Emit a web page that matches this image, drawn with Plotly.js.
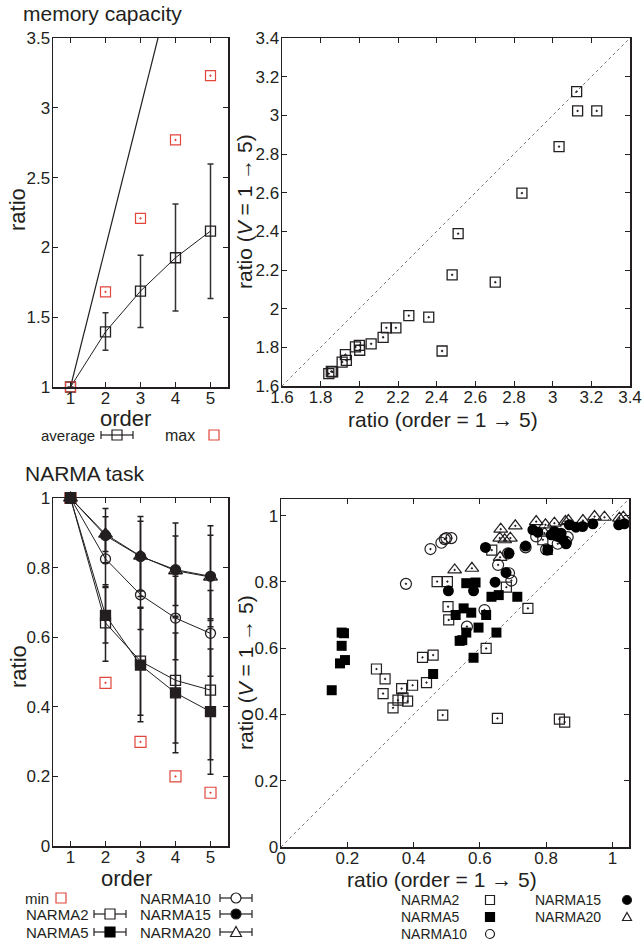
<!DOCTYPE html>
<html>
<head>
<meta charset="utf-8">
<script src="https://cdn.plot.ly/plotly-3.0.1.min.js"></script>
<style>html,body{margin:0;padding:0;background:#fff;}#chart{width:642px;height:946px;}</style>
</head>
<body>
<div id="chart"></div>
<script>
// ---------------- DATA ----------------
// Memory capacity vs order (left top)
const orders = [1, 2, 3, 4, 5];
const mcAverage = [1, 1.395, 1.687, 1.926, 2.117];
const mcErrPlus = [0, 0.136, 0.256, 0.385, 0.481];
const mcErrMinus = [0, 0.132, 0.261, 0.381, 0.483];
const mcMax = [1, 1.682, 2.208, 2.770, 3.230];
const mcRefLineX = [1, 5];
const mcRefLineY = [1, 5];

// Memory capacity scatter (right top)
const mcOrderRatio = [3.124, 3.129, 3.228, 3.033, 2.841, 2.511, 2.480, 2.703, 2.256, 2.359, 2.428, 2.140, 2.189, 2.123, 2.061, 1.980, 2.002, 2.000, 1.928, 1.911, 1.933, 1.862, 1.842, 1.855];
const mcVRatio = [3.123, 3.023, 3.023, 2.838, 2.598, 2.388, 2.175, 2.137, 1.964, 1.956, 1.781, 1.901, 1.901, 1.852, 1.818, 1.802, 1.785, 1.810, 1.762, 1.724, 1.733, 1.673, 1.664, 1.675];
const mcDiag = [1.6, 3.4];

// NARMA vs order (left bottom)
const narma2 = [1, 0.641, 0.531, 0.476, 0.448];
const narma5 = [1, 0.663, 0.520, 0.440, 0.386];
const narma10 = [1, 0.825, 0.722, 0.655, 0.611];
const narma15 = [1, 0.892, 0.832, 0.794, 0.775];
const narma20 = [1, 0.896, 0.833, 0.791, 0.773];
const narma2Err = [0, 0.110, 0.155, 0.180, 0.200];
const narma5Err = [0, 0.080, 0.163, 0.172, 0.180];
const narma10Err = [0, 0.080, 0.100, 0.120, 0.123];
const narma15Err = [0, 0.078, 0.115, 0.134, 0.145];
const narma20Err = [0, 0.050, 0.100, 0.100, 0.120];
const narmaMin = [1, 0.469, 0.299, 0.200, 0.153];

// NARMA scatter (right bottom)
const n2X = [0.504, 0.506, 0.745, 0.619, 0.427, 0.459, 0.288, 0.314, 0.308, 0.364, 0.397, 0.439, 0.353, 0.382, 0.338, 0.368, 0.488, 0.653, 0.840, 0.856, 0.471, 0.502, 0.680, 0.636, 0.790];
const n2Y = [0.725, 0.685, 0.720, 0.599, 0.572, 0.579, 0.537, 0.507, 0.463, 0.478, 0.488, 0.496, 0.443, 0.440, 0.420, 0.450, 0.398, 0.388, 0.386, 0.377, 0.801, 0.801, 0.784, 0.896, 0.927];
const n5X = [0.183, 0.190, 0.183, 0.178, 0.193, 0.153, 0.459, 0.581, 0.539, 0.547, 0.559, 0.596, 0.650, 0.527, 0.551, 0.574, 0.619, 0.559, 0.587, 0.635, 0.657, 0.713, 0.805];
const n5Y = [0.647, 0.645, 0.607, 0.554, 0.564, 0.473, 0.522, 0.571, 0.622, 0.624, 0.647, 0.662, 0.647, 0.700, 0.720, 0.707, 0.700, 0.796, 0.798, 0.755, 0.760, 0.755, 0.896];
const n10X = [0.377, 0.451, 0.484, 0.494, 0.499, 0.514, 0.655, 0.685, 0.688, 0.695, 0.738, 0.800, 0.770, 0.860, 0.614, 0.561, 0.835, 0.865];
const n10Y = [0.794, 0.899, 0.918, 0.929, 0.932, 0.932, 0.851, 0.886, 0.826, 0.804, 0.904, 0.898, 0.937, 0.921, 0.715, 0.665, 0.915, 0.935];
const n15X = [0.617, 0.688, 0.505, 0.581, 0.646, 0.679, 0.738, 0.760, 0.825, 0.851, 0.805, 0.835, 0.845, 0.815, 0.870, 0.890, 0.910, 0.941, 1.019, 1.036, 0.775, 0.860];
const n15Y = [0.904, 0.886, 0.773, 0.773, 0.799, 0.828, 0.908, 0.957, 0.952, 0.927, 0.896, 0.937, 0.947, 0.942, 0.972, 0.965, 0.967, 0.975, 0.972, 0.975, 0.950, 0.915];
const n20X = [0.524, 0.576, 0.663, 0.707, 0.660, 0.675, 0.692, 0.661, 0.770, 0.798, 0.825, 0.858, 0.867, 0.911, 0.946, 0.976, 1.021, 1.033, 0.795];
const n20Y = [0.836, 0.841, 0.959, 0.969, 0.932, 0.927, 0.932, 0.874, 0.982, 0.972, 0.977, 0.982, 0.985, 0.985, 0.997, 0.995, 0.992, 0.995, 0.947];
const narmaDiag = [0, 1.05];

// ---------------- STYLE ----------------
const W = 642, H = 946;
const X = p => p / W, Y = p => 1 - p / H;
const INK = '#231f20', RED = '#e2463c', FONT = 'Liberation Sans, Arial, sans-serif';

function axis(domain, range, dtick, anchor, isX) {
  return {
    domain, range, dtick, tick0: 0, anchor,
    ticks: 'inside', ticklen: 5, tickwidth: 1, tickcolor: INK,
    ticklabelstandoff: isX ? -5 : -2,
    showline: true, mirror: 'ticks', linecolor: INK, linewidth: 1.5,
    showgrid: false, zeroline: false,
    tickfont: {family: FONT, size: 17, color: INK}
  };
}

function errTrace(y, err, xa, ya, symbol, size) {
  return {
    x: orders, y, xaxis: xa, yaxis: ya, type: 'scatter', mode: 'lines+markers',
    line: {color: INK, width: 1},
    marker: {symbol, size, color: INK, line: {color: INK, width: 1.3}},
    error_y: {type: 'data', array: err, symmetric: true, color: INK, thickness: 1.5, width: 3},
    cliponaxis: false, showlegend: false, hoverinfo: 'skip'
  };
}

const traces = [
  // top-left
  {x: mcRefLineX, y: mcRefLineY, xaxis: 'x', yaxis: 'y', mode: 'lines', line: {color: INK, width: 1.2}, showlegend: false},
  {x: orders, y: mcAverage, xaxis: 'x', yaxis: 'y', mode: 'lines+markers',
   line: {color: INK, width: 1},
   marker: {symbol: 'square-open', size: 10, color: INK, line: {color: INK, width: 1.3}},
   error_y: {type: 'data', symmetric: false, array: mcErrPlus, arrayminus: mcErrMinus, color: '#333', thickness: 1.5, width: 3},
   cliponaxis: false, showlegend: false},
  {x: orders, y: mcMax, xaxis: 'x', yaxis: 'y', mode: 'markers',
   marker: {symbol: 'square-open-dot', size: 10, color: RED, line: {color: RED, width: 1.2}},
   cliponaxis: false, showlegend: false},
  // top-right
  {x: mcDiag, y: mcDiag, xaxis: 'x2', yaxis: 'y2', mode: 'lines', line: {color: '#777', width: 1, dash: 'dot'}, showlegend: false},
  {x: mcOrderRatio, y: mcVRatio, xaxis: 'x2', yaxis: 'y2', mode: 'markers',
   marker: {symbol: 'square-open-dot', size: 10, color: INK, line: {color: INK, width: 1.3}},
   cliponaxis: false, showlegend: false},
  // bottom-left
  {x: orders, y: narmaMin, xaxis: 'x3', yaxis: 'y3', mode: 'markers',
   marker: {symbol: 'square-open-dot', size: 11, color: RED, line: {color: RED, width: 1.2}},
   cliponaxis: false, showlegend: false},
  errTrace(narma2, narma2Err, 'x3', 'y3', 'square-open', 10),
  errTrace(narma10, narma10Err, 'x3', 'y3', 'circle-open', 10),
  errTrace(narma20, narma20Err, 'x3', 'y3', 'triangle-up-open', 12),
  errTrace(narma5, narma5Err, 'x3', 'y3', 'square', 10),
  errTrace(narma15, narma15Err, 'x3', 'y3', 'circle', 10),
  // bottom-right
  {x: narmaDiag, y: narmaDiag, xaxis: 'x4', yaxis: 'y4', mode: 'lines', line: {color: '#777', width: 1, dash: 'dot'}, showlegend: false},
  {x: n2X, y: n2Y, xaxis: 'x4', yaxis: 'y4', mode: 'markers', marker: {symbol: 'square-open-dot', size: 10, color: INK, line: {color: INK, width: 1.2}}, cliponaxis: false, showlegend: false},
  {x: n10X, y: n10Y, xaxis: 'x4', yaxis: 'y4', mode: 'markers', marker: {symbol: 'circle-open-dot', size: 11, color: INK, line: {color: INK, width: 1.2}}, cliponaxis: false, showlegend: false},
  {x: n20X, y: n20Y, xaxis: 'x4', yaxis: 'y4', mode: 'markers', marker: {symbol: 'triangle-up-open-dot', size: 12, color: INK, line: {color: INK, width: 1.2}}, cliponaxis: false, showlegend: false},
  {x: n5X, y: n5Y, xaxis: 'x4', yaxis: 'y4', mode: 'markers', marker: {symbol: 'square', size: 10, color: '#000', line: {width: 0}}, cliponaxis: false, showlegend: false},
  {x: n15X, y: n15Y, xaxis: 'x4', yaxis: 'y4', mode: 'markers', marker: {symbol: 'circle', size: 11, color: '#000', line: {width: 0}}, cliponaxis: false, showlegend: false}
];

// ------------- legend symbols (shapes) and texts (annotations) -------------
function rectS(cx, cy, s, fill, color) {
  return {type: 'rect', xref: 'paper', yref: 'paper', x0: X(cx - s/2), x1: X(cx + s/2), y0: Y(cy + s/2), y1: Y(cy - s/2), line: {color, width: 1.2}, fillcolor: fill};
}
function circS(cx, cy, s, fill) {
  return {type: 'circle', xref: 'paper', yref: 'paper', x0: X(cx - s/2), x1: X(cx + s/2), y0: Y(cy + s/2), y1: Y(cy - s/2), line: {color: INK, width: 1.2}, fillcolor: fill};
}
function triS(cx, cy, s) {
  return {type: 'path', xref: 'paper', yref: 'paper', path: `M ${X(cx)},${Y(cy - s/2)} L ${X(cx + s/2)},${Y(cy + s/2 - 1)} L ${X(cx - s/2)},${Y(cy + s/2 - 1)} Z`, line: {color: INK, width: 1.2}, fillcolor: 'white'};
}
function lineS(x0, y0, x1, y1, w) {
  return {type: 'line', xref: 'paper', yref: 'paper', x0: X(x0), y0: Y(y0), x1: X(x1), y1: Y(y1), line: {color: INK, width: w || 1.2}};
}
function errBarS(xa, xb, cy) {
  return [lineS(xa, cy, xb, cy), lineS(xa, cy - 4, xa, cy + 4), lineS(xb, cy - 4, xb, cy + 4)];
}
function txt(px, py, text, size, xanchor, extra) {
  return Object.assign({xref: 'paper', yref: 'paper', x: X(px), y: Y(py), text, showarrow: false, xanchor: xanchor || 'left', yanchor: 'middle', font: {family: FONT, size, color: INK}}, extra || {});
}

const shapes = [].concat(
  // top legend
  errBarS(101, 133, 435), [rectS(117, 435, 10, 'rgba(0,0,0,0)', INK)],
  [rectS(214, 435, 10, 'rgba(0,0,0,0)', RED)],
  // bottom-left legend
  [rectS(61, 898, 10, 'rgba(0,0,0,0)', RED)],
  errBarS(94, 126, 914), [rectS(110, 914, 10, 'white', INK)],
  errBarS(94, 126, 932), [rectS(110, 932, 10, '#000', '#000')],
  errBarS(220, 252, 898), [circS(236, 898, 10, 'white')],
  errBarS(220, 252, 914), [circS(236, 914, 10, '#000')],
  errBarS(220, 252, 932), [triS(236, 932, 11)],
  // bottom-right legend
  [rectS(490, 900, 9, 'rgba(0,0,0,0)', INK)],
  [rectS(490, 917, 9, '#000', '#000')],
  [circS(490, 934, 9, 'rgba(0,0,0,0)')],
  [circS(627, 900, 9, '#000')],
  [triS(627, 917, 9)]
);

const annotations = [
  txt(21, 13, 'memory capacity', 21),
  txt(18, 210, 'ratio', 22, 'center', {textangle: -90}),
  txt(125, 418, 'order', 22, 'center'),
  txt(245, 212, 'ratio (<i>V</i> = 1 → 5)', 21, 'center', {textangle: -90}),
  txt(443, 419, 'ratio (order = 1 → 5)', 21, 'center'),
  txt(23, 473, 'NARMA task', 21),
  txt(18, 667, 'ratio', 22, 'center', {textangle: -90}),
  txt(126, 878, 'order', 22, 'center'),
  txt(245, 673, 'ratio (<i>V</i> = 1 → 5)', 21, 'center', {textangle: -90}),
  txt(442, 879, 'ratio (order = 1 → 5)', 21, 'center'),
  // top legend
  txt(97, 435, 'average', 15, 'right'),
  txt(163, 435, 'max', 16, 'left'),
  // bottom-left legend
  txt(23, 898, 'min', 15),
  txt(24, 914, 'NARMA2', 15),
  txt(24, 932, 'NARMA5', 15),
  txt(138, 898, 'NARMA10', 15),
  txt(138, 914, 'NARMA15', 15),
  txt(138, 932, 'NARMA20', 15),
  // bottom-right legend
  txt(399, 900, 'NARMA2', 14),
  txt(399, 917, 'NARMA5', 14),
  txt(399, 934, 'NARMA10', 14),
  txt(533, 900, 'NARMA15', 14),
  txt(533, 917, 'NARMA20', 14)
];

const layout = {
  width: W, height: H,
  margin: {l: 0, r: 0, t: 0, b: 0},
  paper_bgcolor: '#fff', plot_bgcolor: '#fff',
  font: {family: FONT, color: INK},
  showlegend: false,
  xaxis: axis([X(53), X(228)], [0.5, 5.5], 1, 'y', true),
  yaxis: axis([Y(387), Y(38)], [1, 3.5], 0.5, 'x', false),
  xaxis2: axis([X(282), X(630)], [1.6, 3.4], 0.2, 'y2', true),
  yaxis2: axis([Y(386), Y(38)], [1.6, 3.4], 0.2, 'x2', false),
  xaxis3: axis([X(53), X(228)], [0.5, 5.5], 1, 'y3', true),
  yaxis3: axis([Y(846), Y(498)], [0, 1], 0.2, 'x3', false),
  xaxis4: axis([X(281), X(629)], [0, 1.05], 0.2, 'y4', true),
  yaxis4: axis([Y(847), Y(499)], [0, 1.05], 0.2, 'x4', false),
  shapes, annotations
};

Plotly.newPlot('chart', traces, layout, {staticPlot: true, displayModeBar: false});
</script>
</body>
</html>
